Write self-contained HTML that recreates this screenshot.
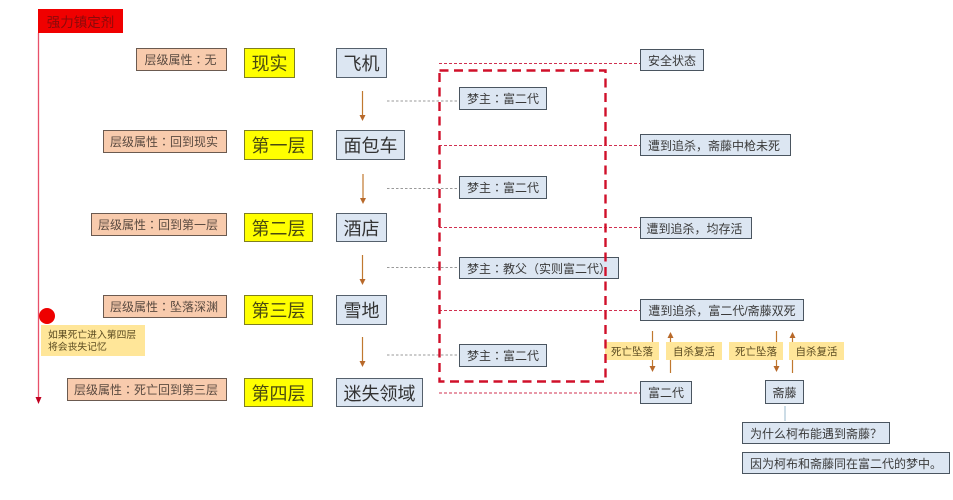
<!DOCTYPE html>
<html><head><meta charset="utf-8">
<style>
html,body{margin:0;padding:0;background:#fff;}
#p{position:relative;width:953px;height:500px;overflow:hidden;background:#fff;font-family:"Liberation Sans","Noto Sans CJK SC",sans-serif;filter:blur(0.35px);}
#p svg{position:absolute;left:0;top:0;}
.b{position:absolute;box-sizing:border-box;white-space:nowrap;text-align:center;display:flex;align-items:center;justify-content:center;}
.a{background:#f8cbad;border:1.5px solid #6b5a50;color:#5a4a40;font-size:12px;padding-right:2px;}
.y{background:#ffff00;border:1.5px solid #7f7f20;color:#4a4a10;font-size:18px;}
.s{background:#dce6f2;border:1.5px solid #55606c;color:#333;font-size:18px;}
.m{background:#dce6f2;border:1.5px solid #4a5560;color:#3a3a3a;font-size:12px;}
.l{background:#ffe699;color:#5a4a20;font-size:10.5px;}
.c{font-family:"Noto Sans CJK TC",sans-serif;}
</style></head><body><div id="p">
<svg width="953" height="500">
<line x1="38.5" y1="33" x2="38.5" y2="398" stroke="#e8506a" stroke-width="1.3"/>
<polygon points="35.5,397 41.5,397 38.5,404" fill="#c00020"/>
<circle cx="47" cy="316" r="8" fill="#ee0000"/>
<g stroke="#c0782f" stroke-width="1.2">
<line x1="362.5" y1="91" x2="362.5" y2="116"/><line x1="363" y1="174" x2="363" y2="199"/>
<line x1="362.5" y1="255" x2="362.5" y2="280"/><line x1="362.5" y1="337" x2="362.5" y2="362"/>
<line x1="652.5" y1="331" x2="652.5" y2="367"/><line x1="670.5" y1="337" x2="670.5" y2="373"/>
<line x1="776.5" y1="331" x2="776.5" y2="367"/><line x1="792.5" y1="337" x2="792.5" y2="373"/>
</g>
<g fill="#b8692a">
<polygon points="359.5,115 365.5,115 362.5,121"/><polygon points="360,198 366,198 363,204"/>
<polygon points="359.5,279 365.5,279 362.5,285"/><polygon points="359.5,361 365.5,361 362.5,367"/>
<polygon points="649.5,366 655.5,366 652.5,372"/><polygon points="667.5,338 673.5,338 670.5,332"/>
<polygon points="773.5,366 779.5,366 776.5,372"/><polygon points="789.5,338 795.5,338 792.5,332"/>
</g>
<g stroke="#999" stroke-width="1" stroke-dasharray="2.5 2" fill="none">
<line x1="387" y1="101" x2="459" y2="101"/><line x1="387" y1="188.5" x2="459" y2="188.5"/>
<line x1="387" y1="267.5" x2="459" y2="267.5"/><line x1="387" y1="355" x2="459" y2="355"/>
</g>
<g stroke="#d03050" stroke-width="1" stroke-dasharray="3 2" fill="none">
<line x1="439" y1="63.5" x2="640" y2="63.5"/><line x1="439" y1="145.5" x2="640" y2="145.5"/>
<line x1="439" y1="227.5" x2="640" y2="227.5"/><line x1="439" y1="310.5" x2="640" y2="310.5"/>
<line x1="439" y1="393" x2="640" y2="393"/>
</g>
<line x1="785" y1="406" x2="785" y2="421" stroke="#a9c4d6" stroke-width="1.2"/>
</svg>
<div class="b" style="left:38px;top:9px;width:85px;height:24px;background:#f00000;color:#8a0a0a;font-size:13.5px;">强力镇定剂</div>

<div class="b a" style="left:136px;top:48px;width:91px;height:23px;">层级属性<span class="c">：</span>无</div>
<div class="b a" style="left:103px;top:130px;width:124px;height:23px;">层级属性<span class="c">：</span>回到现实</div>
<div class="b a" style="left:91px;top:213px;width:136px;height:23px;">层级属性<span class="c">：</span>回到第一层</div>
<div class="b a" style="left:103px;top:295px;width:124px;height:23px;">层级属性<span class="c">：</span>坠落深渊</div>
<div class="b a" style="left:67px;top:378px;width:160px;height:23px;">层级属性<span class="c">：</span>死亡回到第三层</div>

<div class="b y" style="left:244px;top:48px;width:51px;height:30px;">现实</div>
<div class="b y" style="left:244px;top:130px;width:69px;height:30px;">第一层</div>
<div class="b y" style="left:244px;top:213px;width:69px;height:29px;">第二层</div>
<div class="b y" style="left:244px;top:295px;width:69px;height:30px;">第三层</div>
<div class="b y" style="left:244px;top:378px;width:69px;height:29px;">第四层</div>

<div class="b s" style="left:336px;top:48px;width:51px;height:30px;">飞机</div>
<div class="b s" style="left:336px;top:130px;width:69px;height:30px;">面包车</div>
<div class="b s" style="left:336px;top:213px;width:51px;height:29px;">酒店</div>
<div class="b s" style="left:336px;top:295px;width:51px;height:30px;">雪地</div>
<div class="b s" style="left:336px;top:378px;width:87px;height:29px;">迷失领域</div>

<div class="b m" style="left:459px;top:87px;width:88px;height:23px;">梦主<span class="c">：</span>富二代</div>
<div class="b m" style="left:459px;top:176px;width:88px;height:23px;">梦主<span class="c">：</span>富二代</div>
<div class="b m" style="left:459px;top:257px;width:160px;height:22px;justify-content:flex-start;padding-left:7px;">梦主<span class="c">：</span>教父（实则富二代）</div>
<div class="b m" style="left:459px;top:344px;width:88px;height:23px;">梦主<span class="c">：</span>富二代</div>

<div class="b m" style="left:640px;top:49px;width:64px;height:22px;">安全状态</div>
<div class="b m" style="left:640px;top:134px;width:151px;height:22px;padding-right:3px;">遭到追杀，斋藤中枪未死</div>
<div class="b m" style="left:640px;top:217px;width:112px;height:22px;padding-right:3px;">遭到追杀，均存活</div>
<div class="b m" style="left:640px;top:299px;width:164px;height:22px;">遭到追杀，富二代/斋藤双死</div>
<div class="b m" style="left:640px;top:381px;width:52px;height:23px;">富二代</div>
<div class="b m" style="left:765px;top:380px;width:39px;height:24px;">斋藤</div>
<div class="b m" style="left:742px;top:422px;width:148px;height:22px;">为什么柯布能遇到斋藤？</div>
<div class="b m" style="left:742px;top:452px;width:208px;height:22px;">因为柯布和斋藤同在富二代的梦中。</div>

<div class="b l" style="left:605px;top:342px;width:54px;height:18px;">死亡坠落</div>
<div class="b l" style="left:666px;top:342px;width:56px;height:18px;">自杀复活</div>
<div class="b l" style="left:729px;top:342px;width:54px;height:18px;">死亡坠落</div>
<div class="b l" style="left:789px;top:342px;width:55px;height:18px;">自杀复活</div>
<div class="b l" style="left:41px;top:325px;width:104px;height:31px;justify-content:flex-start;padding-left:7px;padding-top:3px;text-align:left;font-size:9.8px;line-height:12px;">如果死亡进入第四层<br>将会丧失记忆</div>

<svg width="953" height="500">
<rect x="439.5" y="70.5" width="166" height="311" fill="none" stroke="#d0102a" stroke-width="2.4" stroke-dasharray="9 5.5"/>
</svg>
</div></body></html>
